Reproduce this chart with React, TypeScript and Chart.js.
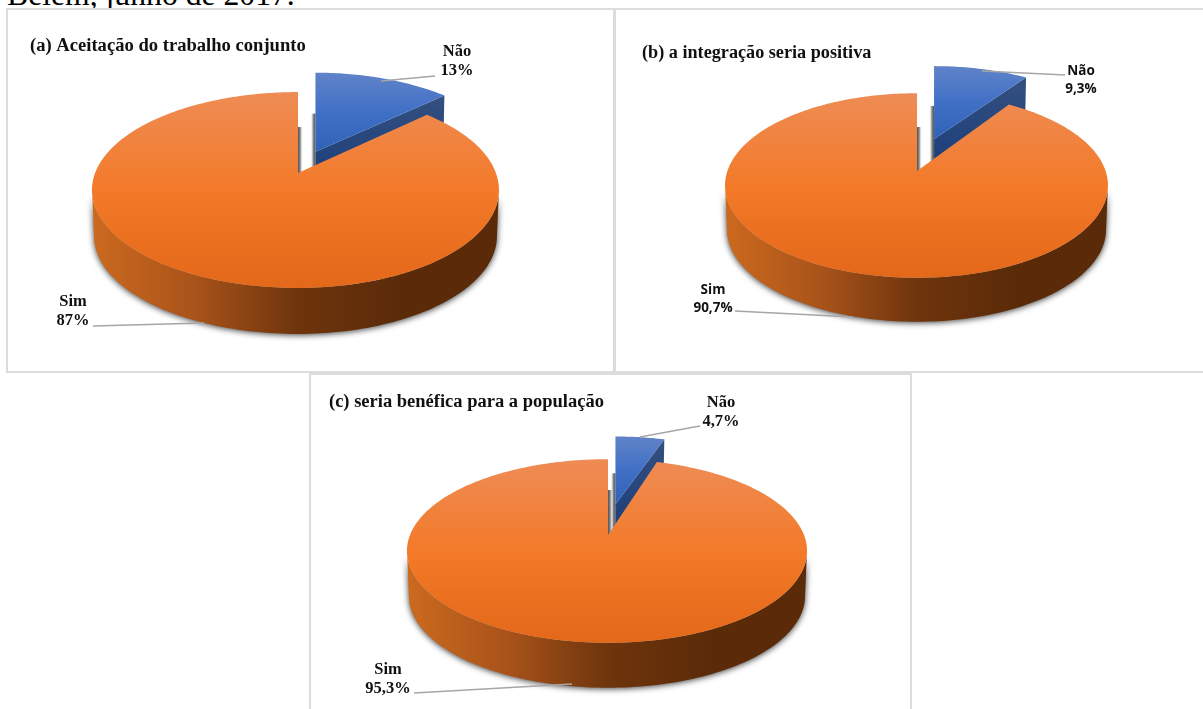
import React, { useEffect, useRef } from "react";
import { Chart, registerables } from "chart.js";

Chart.register(...registerables);

const categories = ["Não", "Sim"];
const valuesA = [13, 87];
const valuesB = [9.3, 90.7];
const valuesC = [4.7, 95.3];

const titleA = "(a) Aceitação do trabalho conjunto";
const titleB = "(b) a integração seria positiva";
const titleC = "(c) seria benéfica para a população";
const caption = "Belém, junho de 2017.";

const SERIF = "'Liberation Serif', serif";
const SANS = "'Open Sans', sans-serif";

// Per-slice shading: top face, radial wall and outer rim.
const SHADES = [
  {
    face: ["#6083c8", "#4070c6", "#2f62b6"],
    wall: ["#34507f", "#1d3f7c"],
    rim: ["#1d3f7c", "#1d3f7c"],
  },
  {
    face: ["#ee8c55", "#f37a29", "#e36819"],
    wall: ["#b85a18", "#b85a18"],
    rim: ["#cc6a1e", "#a9531a", "#6f350c", "#5b2b09", "#5b2b09"],
  },
];

type View = {
  frame: [number, number, number, number];
  cx: number;
  cy: number;
  rx: number;
  lean: number;
  ry: number;
  tilt: number;
  depth: number;
  apexLift: number;
  labelFont: string;
  labelPos: [number, number, number][];
  leaders: [number, number][][];
};

const makeTiltedPie = (view: View) => {
  const [fx, fy] = view.frame;
  const cx = view.cx - fx;
  const cy = view.cy - fy;

  const project = (u: number, v: number, drop = 0) => {
    const w = 1 - view.tilt * v;
    const narrow = drop ? 0.99 : 1;
    const reach = u < 0 ? view.rx + view.lean : view.rx - view.lean;
    return {
      x: cx + (narrow * reach * u) / w,
      y: cy + (view.ry * v) / w + drop,
    };
  };

  return {
    id: "tiltedPie",
    // The arcs are projected onto a tilted plane, so the flat drawing is replaced.
    beforeDatasetsDraw(chart: any) {
      const ctx = chart.ctx as CanvasRenderingContext2D;
      const arcs = chart.getDatasetMeta(0).data as any[];
      const slices = arcs.map((el, index) => {
        const push = (el.options.offset || 0) / 4 / el.outerRadius;
        const mid = (el.startAngle + el.endAngle) / 2;
        const p = project(Math.cos(mid) * push, Math.sin(mid) * push);
        return {
          index,
          push,
          start: el.startAngle,
          end: el.endAngle,
          dx: p.x - cx,
          dy: p.y - cy,
        };
      });

      const rimPoint = (s: any, a: number, drop = 0) => {
        const p = project(Math.cos(a), Math.sin(a), drop);
        return { x: p.x + s.dx, y: p.y + s.dy };
      };
      const stops = (g: CanvasGradient, colors: string[]) => {
        colors.forEach((c, i) => g.addColorStop(i / (colors.length - 1), c));
        return g;
      };
      const edgeStrip = (x: number, top: number, bottom: number, dir: number) => {
        const g = ctx.createLinearGradient(x, 0, x + dir * 5, 0);
        g.addColorStop(0, "rgba(80,80,80,1)");
        g.addColorStop(0.45, "rgba(125,125,125,0.9)");
        g.addColorStop(1, "rgba(255,255,255,0)");
        ctx.fillStyle = g;
        ctx.fillRect(Math.min(x, x + dir * 5), top, 5, bottom - top);
      };

      ctx.save();
      // Soft contact shadows beside the gap between the two pieces.
      slices.forEach((s) => {
        const ax = cx + s.dx;
        const ay = cy + s.dy;
        if (s.push > 0) edgeStrip(ax, ay - view.depth + 6, ay + view.depth / 2, -1);
        else edgeStrip(ax, ay - view.depth, ay, 1);
      });

      [...slices]
        .sort((a, b) => b.push - a.push)
        .forEach((s) => {
          const shade = SHADES[s.index];
          const lift = s.push > 0 ? view.apexLift : 0;
          const apex = { x: cx + s.dx, y: cy + s.dy + lift };
          const count = Math.ceil(((s.end - s.start) * 180) / Math.PI);

          if (s.push > 0) {
            const tip = rimPoint(s, s.end);
            const g = ctx.createLinearGradient(0, tip.y, 0, apex.y + view.depth / 2);
            ctx.fillStyle = stops(g, shade.wall);
            ctx.beginPath();
            ctx.moveTo(apex.x, apex.y);
            ctx.lineTo(tip.x, tip.y);
            ctx.lineTo(tip.x - 1, tip.y + view.depth);
            ctx.lineTo(apex.x, apex.y + view.depth);
            ctx.closePath();
            ctx.fill();
          }

          // Outer rim, front part only: the rest sits behind the top face.
          const low = Math.asin(view.tilt);
          const from = Math.max(s.start, low);
          const to = Math.min(s.end, Math.PI - low);
          if (to > from) {
            const left = rimPoint(s, to).x;
            const right = rimPoint(s, from).x;
            const g = ctx.createLinearGradient(left, 0, right, 0);
            ctx.save();
            ctx.shadowColor = "rgba(50,50,50,0.95)";
            ctx.shadowBlur = 6;
            ctx.shadowOffsetY = 1;
            ctx.fillStyle = stops(g, shade.rim);
            ctx.beginPath();
            for (let i = 0; i <= 120; i++) {
              const p = rimPoint(s, to + ((from - to) * i) / 120);
              if (i) ctx.lineTo(p.x, p.y);
              else ctx.moveTo(p.x, p.y);
            }
            for (let i = 120; i >= 0; i--) {
              const p = rimPoint(s, to + ((from - to) * i) / 120, view.depth);
              ctx.lineTo(p.x, p.y);
            }
            ctx.closePath();
            ctx.fill();
            ctx.restore();
          }

          // Top face.
          let top = Infinity;
          let bottom = apex.y;
          ctx.beginPath();
          ctx.moveTo(apex.x, apex.y);
          for (let i = 0; i <= count; i++) {
            const p = rimPoint(s, s.start + ((s.end - s.start) * i) / count);
            ctx.lineTo(p.x, p.y);
            top = Math.min(top, p.y);
            bottom = Math.max(bottom, p.y);
          }
          ctx.closePath();
          ctx.fillStyle = stops(ctx.createLinearGradient(0, top, 0, bottom), shade.face);
          ctx.fill();
        });
      ctx.restore();
      return false;
    },
    afterDraw(chart: any) {
      const ctx = chart.ctx as CanvasRenderingContext2D;
      const data = chart.data.datasets[0].data as number[];
      ctx.save();
      ctx.strokeStyle = "#a6a6a6";
      ctx.lineWidth = 1.4;
      view.leaders.forEach((points) => {
        ctx.beginPath();
        points.forEach(([x, y], i) => {
          if (i) ctx.lineTo(x - fx, y - fy);
          else ctx.moveTo(x - fx, y - fy);
        });
        ctx.stroke();
      });
      ctx.fillStyle = "#111";
      ctx.font = view.labelFont;
      ctx.textAlign = "center";
      ctx.textBaseline = "middle";
      view.labelPos.forEach(([x, y, gap], i) => {
        const name = chart.data.labels[i];
        const share = String(data[i]).replace(".", ",") + "%";
        ctx.fillText(name, x - fx, y - fy);
        ctx.fillText(share, x - fx, y - fy + gap);
      });
      ctx.restore();
    },
  };
};

type PanelProps = {
  values: number[];
  title: string;
  titleFont: number;
  titleTop: number;
  titleLeft: number;
  push: number;
  view: View;
};

function Panel({ values, title, titleFont, titleTop, titleLeft, push, view }: PanelProps) {
  const ref = useRef<HTMLCanvasElement>(null);
  const [x, y, w, h] = view.frame;

  useEffect(() => {
    const chart = new Chart(ref.current as HTMLCanvasElement, {
      type: "pie",
      data: {
        labels: categories,
        datasets: [
          {
            data: values,
            backgroundColor: ["#4472c4", "#ed7d31"],
            borderWidth: 0,
            radius: 100,
            offset: [push * 400, 0],
          },
        ],
      },
      options: {
        animation: false,
        responsive: false,
        events: [],
        layout: { padding: { left: titleLeft } },
        plugins: {
          legend: { display: false },
          tooltip: { enabled: false },
          title: {
            display: true,
            text: title,
            align: "start",
            color: "#111",
            font: { family: SERIF, size: titleFont, weight: "bold" },
            padding: { top: titleTop, bottom: 0 },
          },
        },
      },
      plugins: [makeTiltedPie(view)],
    } as any);
    return () => chart.destroy();
  }, []);

  return (
    <div
      style={{
        position: "absolute",
        left: x,
        top: y,
        width: w,
        height: h,
        boxSizing: "border-box",
        border: "2px solid #dcdcdc",
        background: "#fff",
      }}
    >
      <canvas
        ref={ref}
        width={w}
        height={h}
        style={{ position: "absolute", left: -2, top: -2, display: "block" }}
      />
    </div>
  );
}

const viewA: View = {
  frame: [6, 8, 609, 365],
  cx: 298,
  cy: 173,
  rx: 200.4,
  lean: 2.5,
  ry: 95,
  tilt: 0.1735,
  depth: 46,
  apexLift: -2,
  labelFont: `bold 16.5px ${SERIF}`,
  labelPos: [
    [457, 52, 19],
    [73, 302, 19],
  ],
  leaders: [
    [[381, 81], [435, 76]],
    [[93, 326], [204, 323]],
  ],
};

const viewB: View = {
  frame: [614, 8, 594, 365],
  cx: 917,
  cy: 171,
  rx: 189.1,
  lean: 0.5,
  ry: 90,
  tilt: 0.157,
  depth: 44,
  apexLift: -5,
  labelFont: `bold 13.5px ${SANS}`,
  labelPos: [
    [1081, 71, 18],
    [713, 290, 18],
  ],
  leaders: [
    [[982, 71], [1065, 75]],
    [[735, 311], [853, 317]],
  ],
};

const viewC: View = {
  frame: [309, 373, 603, 345],
  cx: 608,
  cy: 535,
  rx: 197,
  lean: 1,
  ry: 89,
  tilt: 0.174,
  depth: 45,
  apexLift: -8,
  labelFont: `bold 16.5px ${SERIF}`,
  labelPos: [
    [721, 403, 19],
    [388, 670, 19],
  ],
  leaders: [
    [[640, 437], [678, 430], [700, 426]],
    [[414, 693], [572, 684]],
  ],
};

export default function App() {
  return (
    <div
      style={{
        position: "absolute",
        left: 0,
        top: 0,
        width: 1203,
        height: 709,
        overflow: "hidden",
        background: "#fff",
      }}
    >
      <div
        style={{
          position: "absolute",
          left: 7,
          top: -21,
          fontFamily: SERIF,
          fontSize: 31.7,
          lineHeight: "32px",
          color: "#000",
          whiteSpace: "nowrap",
        }}
      >
        {caption}
      </div>
      <Panel values={valuesA} title={titleA} titleFont={18.6} titleTop={27} titleLeft={24} push={0.23} view={viewA} />
      <Panel values={valuesB} title={titleB} titleFont={18.2} titleTop={34} titleLeft={28} push={0.33} view={viewB} />
      <Panel values={valuesC} title={titleC} titleFont={18.5} titleTop={18} titleLeft={20} push={0.27} view={viewC} />
    </div>
  );
}
